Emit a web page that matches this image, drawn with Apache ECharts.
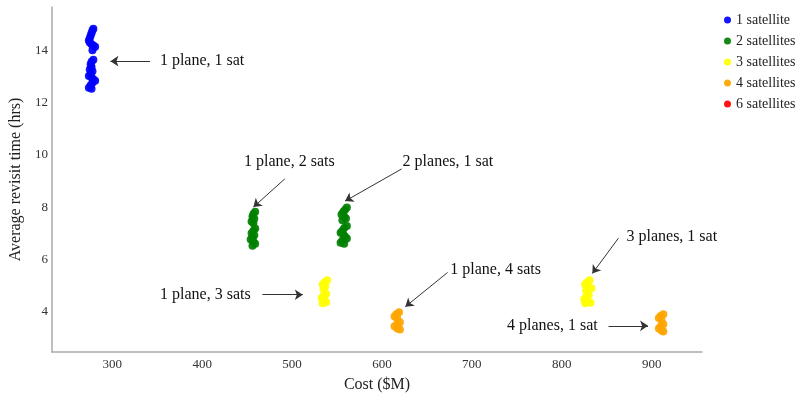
<!DOCTYPE html>
<html><head><meta charset="utf-8">
<script src="https://cdn.jsdelivr.net/npm/echarts@6/dist/echarts.min.js"></script>
<style>html,body{margin:0;padding:0;background:#fff}#c{width:798px;height:393px}</style>
</head><body><div id="c"></div>
<script>
const seriesNames = ['1 satellite','2 satellites','3 satellites','4 satellites','6 satellites'];
const seriesColors = ['#0000ff','#008000','#ffff00','#ffa500','#ff0000'];
const xTicks = [300,400,500,600,700,800,900];
const yTicks = [4,6,8,10,12,14];

const sat1 = [[279,14.82],[278,14.75],[277,14.66],[276,14.56],[275,14.46],[274,14.37],[275,14.29],[277,14.23],[279,14.18],[281,14.13],[278,14.0],
  [279,13.63],[277,13.56],[276,13.46],[277,13.36],[275,13.26],[278,13.19],[276,13.1],[274,13.01],[277,12.95],[279,12.89],[281,12.83],[278,12.75],[276,12.66],[274,12.56],[277,12.52]];
const sat2 = [[459,7.82],[457,7.74],[456,7.64],[458,7.55],[455,7.45],[457,7.38],
  [459,7.18],[457,7.1],[455,7.0],[458,6.92],[456,6.84],[454,6.76],[457,6.68],[459,6.6],[456,6.52],
  [561,7.98],[559,7.9],[557,7.82],[555,7.72],[558,7.64],[560,7.56],[556,7.5],
  [561,7.28],[558,7.2],[556,7.1],[554,7.02],[557,6.95],[559,6.88],[561,6.8],[556,6.72],[554,6.64],[558,6.6]];
const sat3 = [[539,5.2],[536,5.12],[534,5.04],[537,4.96],[535,4.86],
  [538,4.68],[535,4.6],[533,4.52],[536,4.44],[538,4.36],[534,4.32],
  [831,5.2],[828,5.12],[826,5.04],[829,4.96],[833,4.9],[827,4.82],
  [830,4.65],[827,4.56],[825,4.48],[829,4.4],[832,4.34],[826,4.32]];
const sat4 = [[619,3.98],[616,3.9],[614,3.82],[617,3.74],
  [620,3.6],[617,3.52],[614,3.44],[617,3.36],[620,3.32],
  [913,3.9],[910,3.84],[908,3.76],[911,3.68],
  [913,3.52],[910,3.44],[908,3.36],[911,3.28],[913,3.24]];
const sat6 = [];

const annotTexts = ['1 plane, 1 sat','1 plane, 2 sats','2 planes, 1 sat','1 plane, 3 sats','1 plane, 4 sats','3 planes, 1 sat','4 planes, 1 sat'];
const annotPos = [[353,13.58],[497,9.73],[623,9.73],[454,4.65],[676,5.6],[872,6.85],[840,3.46]];
const annotAlign = ['left','center','left','right','left','left','right'];
const arrowFrom = [[342,13.58],[492,9.08],[622,9.46],[467,4.65],[673,5.5],[863,6.81],[852,3.46]];
const arrowTo = [[298,13.58],[457,8.0],[559,8.23],[512,4.65],[626,4.19],[834,5.46],[896,3.46]];

const font = 'Liberation Serif';
const chart = echarts.init(document.getElementById('c'));
const dataSets = [sat1,sat2,sat3,sat4,sat6];
const series = seriesNames.map((n,i)=>({
  name:n, type:'scatter', data:dataSets[i], symbolSize:8,
  itemStyle:{color:seriesColors[i], opacity:0.92}
}));
series.push({
  type:'scatter', name:'annot', symbolSize:1, silent:true,
  itemStyle:{color:'rgba(0,0,0,0)', opacity:1},
  data: annotPos.map((p,i)=>({value:p, label:{show:true, formatter:annotTexts[i], position:'inside', align:annotAlign[i], verticalAlign:'middle', offset:[0,0], color:'#111', fontFamily:font, fontSize:16, textBorderWidth:0}})),
  markLine:{
    silent:true, symbol:['none','arrow'], symbolSize:8,
    lineStyle:{color:'#333', width:1, type:'solid', opacity:1},
    itemStyle:{color:'#333'},
    label:{show:false}, animation:false,
    data: arrowFrom.map((f,i)=>[{coord:f},{coord:arrowTo[i]}])
  }
});
chart.setOption({
  animation:false,
  textStyle:{fontFamily:font},
  grid:{left:52,right:96,top:7,bottom:41,containLabel:false,outerBoundsMode:'none'},
  legend:{
    data:seriesNames, orient:'vertical', left:719, top:8, itemGap:7,
    icon:'circle', itemWidth:7, itemHeight:7,
    textStyle:{fontFamily:font, fontSize:14, color:'#222'}
  },
  xAxis:{
    type:'value', min:233, max:956, name:'Cost ($M)', nameLocation:'middle', nameGap:25,
    nameTextStyle:{fontFamily:font,fontSize:16,color:'#222'},
    splitLine:{show:false},
    axisLine:{lineStyle:{color:'#aaa',width:1.5}},
    axisTick:{show:false},
    axisLabel:{customValues:xTicks, color:'#333', fontFamily:font, fontSize:13, margin:6}
  },
  yAxis:{
    type:'value', min:2.46, max:15.65, name:'Average revisit time (hrs)', nameLocation:'middle', nameGap:27,
    nameTextStyle:{fontFamily:font,fontSize:16,color:'#222'},
    splitLine:{show:false},
    axisLine:{show:true,lineStyle:{color:'#aaa',width:1.5}},
    axisTick:{show:false},
    axisLabel:{customValues:yTicks, color:'#333', fontFamily:font, fontSize:13, margin:4}
  },
  series:series
});
</script></body></html>
